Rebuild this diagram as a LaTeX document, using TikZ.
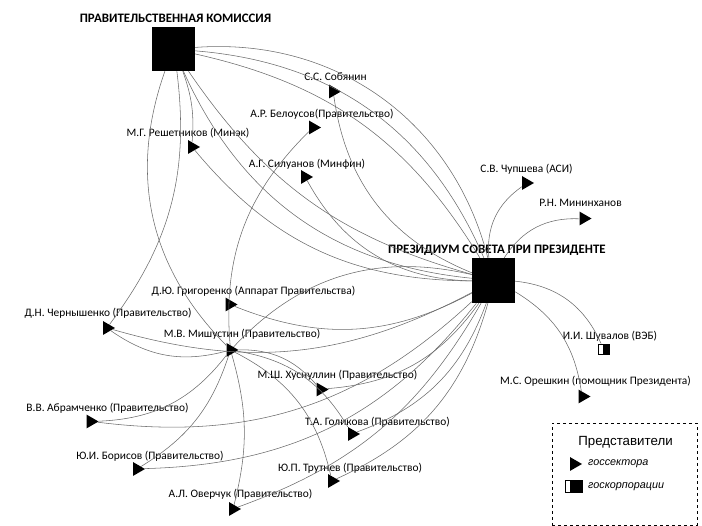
\documentclass[tikz,border=0pt]{standalone}
\usepackage{fontspec}
\setmainfont{Carlito}
\newfontfamily\legfont{Liberation Sans}
\usetikzlibrary{shapes.geometric,positioning}
\tikzset{
comm/.style = {fill=black, rectangle, inner sep=0pt, minimum width=43pt, minimum height=44pt},
memb/.style = {fill=black, regular polygon, regular polygon sides=3, shape border rotate=-90, inner sep=0pt, minimum size=16pt},
corp/.style = {draw, line width=0.9pt, rectangle, inner sep=0pt, minimum width=11pt, minimum height=10pt,
  path picture={\fill ([xshift=4pt]path picture bounding box.south west) rectangle (path picture bounding box.north east);}},
lbl/.style = {inner sep=0pt, font=\fontsize{11.4}{13}\selectfont},
head/.style = {inner sep=0pt, font=\bfseries\fontsize{12.9}{15}\selectfont},
link/.style = {draw=black!58, line width=0.55pt}
}
\begin{document}
\begin{tikzpicture}[x=1pt, y=1pt]
    \useasboundingbox (0,0) rectangle (702,526);
    % commissions
    \node [comm] (pk) at (173.5,477) {};
    \node [head] (pkl) at (175.5,508) {ПРАВИТЕЛЬСТВЕННАЯ КОМИССИЯ};
    \node [comm, minimum height=45pt] (ps) at (493.5,245.5) {};
    \node [head] (psl) at (497,276) {ПРЕЗИДИУМ СОВЕТА ПРИ ПРЕЗИДЕНТЕ};
    % members
    \node [memb] (sob) at (333,434.5) {};
    \node [lbl] (sobl) at (335.5,449) {С.С. Собянин};
    \node [memb] (bel) at (313,398.5) {};
    \node [lbl] (bell) at (322,412) {А.Р. Белоусов(Правительство)};
    \node [memb] (resh) at (192,379) {};
    \node [lbl] (reshl) at (188,393) {М.Г. Решетников (Минэк)};
    \node [memb] (sil) at (305,349) {};
    \node [lbl] (sill) at (307,362) {А.Г. Силуанов (Минфин)};
    \node [memb] (chup) at (526,343) {};
    \node [lbl] (chupl) at (526.5,357) {С.В. Чупшева (АСИ)};
    \node [memb] (mini) at (583.5,307.5) {};
    \node [lbl] (minil) at (580.5,323) {Р.Н. Мининханов};
    \node [corp] (shuv) at (604,177) {};
    \node [lbl] (shuvl) at (610,190) {И.И. Шувалов (ВЭБ)};
    \node [memb] (oresh) at (582.5,129.5) {};
    \node [lbl] (oreshl) at (595.5,145) {М.С. Орешкин (помощник Президента)};
    \node [memb] (grig) at (229.5,221.5) {};
    \node [lbl] (grigl) at (253.5,235) {Д.Ю. Григоренко (Аппарат Правительства)};
    \node [memb] (chern) at (107,198) {};
    \node [lbl] (chernl) at (108,213) {Д.Н. Чернышенко (Правительство)};
    \node [memb] (mish) at (230.5,176) {};
    \node [lbl] (mishl) at (242,192) {М.В. Мишустин (Правительство)};
    \node [memb] (khus) at (320.5,136.5) {};
    \node [lbl] (khusl) at (337.5,151) {М.Ш. Хуснуллин (Правительство)};
    \node [memb] (abr) at (90.5,104.5) {};
    \node [lbl] (abrl) at (107.5,118) {В.В. Абрамченко (Правительство)};
    \node [memb] (gol) at (352,92) {};
    \node [lbl] (goll) at (377.5,104) {Т.А. Голикова (Правительство)};
    \node [memb] (bor) at (137,57) {};
    \node [lbl] (borl) at (150,70) {Ю.И. Борисов (Правительство)};
    \node [memb] (trut) at (332,45) {};
    \node [lbl] (trutl) at (350,58) {Ю.П. Трутнев (Правительство)};
    \node [memb] (over) at (233,17) {};
    \node [lbl] (overl) at (240.5,32) {А.Л. Оверчук (Правительство)};
    % links
    \draw [link] (pk) to[bend left=40] (ps);
    \draw [link] (pk) to[bend left=31] (ps);
    \draw [link] (pk) to[bend left=23] (ps);
    \draw [link] (pk) to[bend right=30] (ps);
    \draw [link] (pk) to[bend right=20] (ps);
    \draw [link] (pk) to[bend left=12] (resh);
    \draw [link] (pk) to[bend left=22] (chern);
    \draw [link] (mish) to[bend left=32] (pk);
    \draw [link] (ps) to[bend left=30] (sob);
    \draw [link] (ps) to[bend left=30] (sil);
    \draw [link] (ps) to[bend left=25] (resh);
    \draw [link] (ps) to[bend left=25] (grig);
    \draw [link] (ps) to[bend left=22] (chern);
    \draw [link] (ps) to[bend left=25] (abr);
    \draw [link] (ps) to[bend left=25] (bor);
    \draw [link] (ps) to[bend left=20] (over);
    \draw [link] (ps) to[bend left=25] (trut);
    \draw [link] (ps) to[bend left=25] (gol);
    \draw [link] (ps) to[bend left=25] (khus);
    \draw [link] (ps) to[bend left=30] (chup);
    \draw [link] (ps) to[bend left=30] (mini);
    \draw [link] (ps) to[bend left=30] (shuv);
    \draw [link] (ps) to[bend left=25] (oresh);
    \draw [link] (mish) to[bend left=30] (ps);
    \draw [link] (mish) to[bend left=25] (bel);
    \draw [link] (mish) to[bend left=25] (chern);
    \draw [link] (mish) to[bend left=25] (abr);
    \draw [link] (mish) to[bend left=20] (bor);
    \draw [link] (mish) to[bend left=15] (over);
    \draw [link] (mish) to[bend left=25] (trut);
    \draw [link] (mish) to[bend left=25] (gol);
    \draw [link] (mish) to[bend left=25] (khus);
    % legend
    \node [draw, dashed, line width=0.6pt, minimum width=145pt, minimum height=102pt, inner sep=0pt] (leg) at (624.5,52) {};
    \node [inner sep=0pt, font=\legfont\fontsize{13.3}{15}\selectfont] (legt) at (625.5,84) {Представители};
    \node [memb] (legm) at (574,62) {};
    \node [anchor=west, inner sep=0pt, font=\legfont\itshape\fontsize{10.8}{12}\selectfont] (legmt) at (588,62) {госсектора};
    \node [corp, line width=1.3pt, minimum width=17pt, minimum height=12pt] (legc) at (574,39.5) {};
    \node [anchor=west, inner sep=0pt, font=\legfont\itshape\fontsize{10.8}{12}\selectfont] (legct) at (588,39.5) {госкорпорации};
\end{tikzpicture}
\end{document}
